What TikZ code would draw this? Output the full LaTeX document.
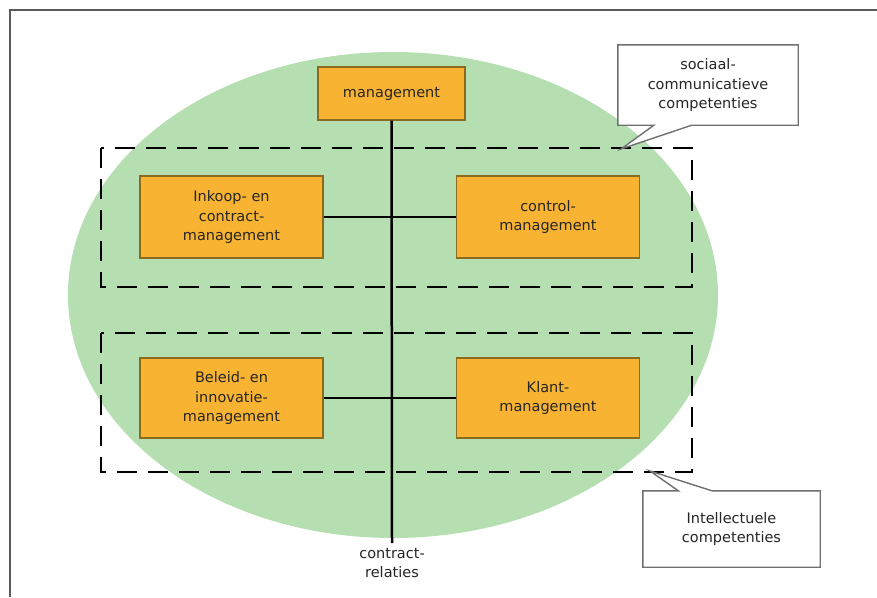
\documentclass[tikz,border=0pt]{standalone}
\usepackage{fontspec}
\setmainfont{DejaVu Sans}
\usetikzlibrary{calc}
\definecolor{ellgreen}{HTML}{B5DEB1}
\definecolor{boxorange}{HTML}{F8B333}
\definecolor{boxborder}{HTML}{8C6B1E}
\definecolor{framegray}{HTML}{5A5A5A}
\definecolor{callgray}{HTML}{707070}
\tikzset{
  x=1pt, y=-1pt,
  txt/.style={font=\fontsize{14.5}{19.5}\selectfont, text=black!85, align=center, inner sep=0pt},
  orangebox/.style={txt, draw=boxborder, fill=boxorange, line width=1.3pt, minimum width=183pt, minimum height=82pt},
  dashbox/.style={draw=black, line width=2.4pt, dash pattern=on 20pt off 11pt},
  conn/.style={draw=black, line width=2pt},
  callout/.style={draw=callgray, fill=white, line width=1.4pt, line join=miter},
}
\begin{document}
\begin{tikzpicture}
\useasboundingbox (0,0) rectangle (877,597);
\fill[white] (0,0) rectangle (877,597);
% frame
\draw[framegray, line width=2pt] (10,597) -- (10,10) -- (877,10);
% ellipse
\fill[ellgreen] (393,295) ellipse [x radius=325, y radius=243];
% dashed groups
\draw[dashbox] (101,148) rectangle (692,287);
\draw[dashbox] (101,333) rectangle (692,472);
% nodes
\node[orangebox, minimum width=147pt, minimum height=53pt] (mgmt) at (391.5,93.5) {management};
\node[orangebox] (inkoop) at (231.5,217) {Inkoop- en\\contract-\\management};
\node[orangebox] (control) at (548,217) {control-\\management};
\node[orangebox, minimum height=80pt] (beleid) at (231.5,398) {Beleid- en\\innovatie-\\management};
\node[orangebox, minimum height=80pt] (klant) at (548,398) {Klant-\\management};
\node[txt] (relaties) at (392,563) {contract-\\relaties};
\coordinate (bottomend) at (392,543);
% connectors
\draw[conn, line width=2.5pt] (mgmt.south) -- (bottomend);
\draw[conn] (inkoop.east) -- (control.west);
\draw[conn] (beleid.east) -- (klant.west);
% callouts
\node[txt, minimum width=180pt, minimum height=80pt] (soc) at (708,85) {};
\draw[callout] (soc.north west) -- (soc.north east) -- (soc.south east)
  -- ($(soc.south west)!0.41!(soc.south east)$) -- (621,149)
  -- ($(soc.south west)!0.2!(soc.south east)$) -- (soc.south west) -- cycle;
\node[txt] at (soc.center) {sociaal-\\communicatieve\\competenties};
\node[txt, minimum width=177pt, minimum height=76pt] (int) at (731.5,529) {};
\draw[callout] (int.south west) -- (int.south east) -- (int.north east)
  -- ($(int.north west)!0.39!(int.north east)$) -- (650,471)
  -- ($(int.north west)!0.2!(int.north east)$) -- (int.north west) -- cycle;
\node[txt] at (int.center) {Intellectuele\\competenties};
\end{tikzpicture}
\end{document}
